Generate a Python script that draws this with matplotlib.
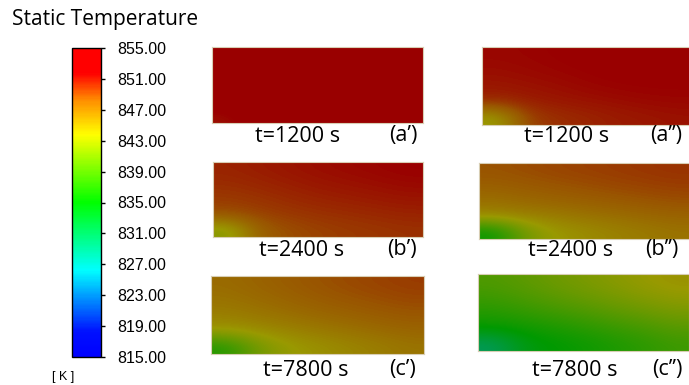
import numpy as np
import matplotlib
matplotlib.use('Agg')
import matplotlib.pyplot as plt
from matplotlib.colors import LinearSegmentedColormap, Normalize, to_rgb
from matplotlib.cm import ScalarMappable

# ---------------- data ----------------
t_min, t_max = 815.0, 855.0
cbar_ticks = [815, 819, 823, 827, 831, 835, 839, 843, 847, 851, 855]
cbar_title = "Static Temperature"
cbar_unit = "[ K ]"

# colour scale (temperature K -> colour)
scale_temps = [815.0, 818.2, 826.2, 835.0, 843.8, 848.2, 851.8, 855.0]
scale_colors = ['#0000ff', '#0010ff', '#00ffff', '#00ff00', '#ffff00', '#ff9000',
                '#ff0000', '#ff0000']

times = ["t=1200 s", "t=2400 s", "t=7800 s"]
tags_left = ["(a\u2019)", "(b\u2019)", "(c\u2019)"]
tags_right = ["(a\u2019\u2019)", "(b\u2019\u2019)", "(c\u2019\u2019)"]

# coarse temperature fields (rows top->bottom, cols left->right), K
field_a1 = [[855.0, 855.0, 855.0, 855.0, 855.0, 855.0, 855.0],
            [855.0, 855.0, 855.0, 855.0, 855.0, 855.0, 855.0],
            [855.0, 855.0, 855.0, 855.0, 855.0, 855.0, 855.0],
            [853.5, 855.0, 855.0, 855.0, 855.0, 855.0, 855.0],
            [851.0, 853.0, 855.0, 855.0, 855.0, 855.0, 855.0]]
field_a2 = [[851.5, 851.6, 851.8, 852.0, 852.0, 852.0, 852.0],
            [851.2, 851.4, 851.6, 851.8, 852.0, 852.0, 852.0],
            [850.8, 851.0, 851.2, 851.5, 851.7, 851.8, 851.8],
            [850.0, 850.5, 850.8, 851.0, 851.2, 851.4, 851.5],
            [843.5, 849.0, 849.8, 850.2, 850.6, 850.8, 851.0]]
field_b1 = [[850.3, 850.6, 850.9, 851.2, 851.4, 851.6, 851.8],
            [849.9, 850.2, 850.5, 850.8, 851.0, 851.2, 851.4],
            [849.3, 849.6, 850.0, 850.3, 850.5, 850.7, 850.9],
            [848.5, 849.0, 849.4, 849.7, 849.9, 850.1, 850.3],
            [842.5, 847.5, 848.5, 849.0, 849.3, 849.5, 849.7]]
field_b2 = [[848.3, 848.6, 848.9, 849.1, 849.3, 849.5, 849.7],
            [847.6, 847.9, 848.2, 848.5, 848.8, 849.0, 849.2],
            [846.5, 847.0, 847.3, 847.6, 847.9, 848.2, 848.5],
            [845.0, 845.3, 845.7, 846.2, 846.6, 847.0, 847.3],
            [835.5, 841.5, 843.8, 844.6, 845.3, 845.8, 846.3]]
field_c1 = [[846.8, 847.3, 847.8, 848.3, 848.7, 849.0, 849.3],
            [846.3, 846.8, 847.3, 847.8, 848.2, 848.5, 848.8],
            [845.5, 846.0, 846.5, 847.0, 847.4, 847.8, 848.1],
            [844.0, 844.6, 845.2, 845.8, 846.3, 846.8, 847.2],
            [837.0, 841.5, 843.5, 844.3, 845.0, 845.6, 846.2]]
field_c2 = [[839.5, 840.3, 841.2, 842.0, 842.8, 843.6, 844.3],
            [838.5, 839.3, 840.2, 841.0, 841.8, 842.6, 843.3],
            [837.0, 837.8, 838.5, 839.3, 840.2, 841.0, 841.8],
            [835.3, 835.8, 836.5, 837.3, 838.2, 839.0, 840.0],
            [830.0, 834.0, 835.0, 835.7, 836.6, 837.5, 838.5]]

# ---------------- style ----------------
W, H = 689, 385
fig = plt.figure(figsize=(W / 100, H / 100), dpi=100)
fig.patch.set_facecolor('white')

def ax_px(x0, y0, x1, y1):
    return fig.add_axes([x0 / W, 1 - y1 / H, (x1 - x0) / W, (y1 - y0) / H])

pos = [(t - t_min) / (t_max - t_min) for t in scale_temps]
cmap = LinearSegmentedColormap.from_list('fluent', list(zip(pos, scale_colors)))
shade = 0.60
shaded = [tuple(shade * c for c in to_rgb(h)) for h in scale_colors]
cmap_sh = LinearSegmentedColormap.from_list('fluent_shaded', list(zip(pos, shaded)))
norm = Normalize(t_min, t_max)

# colour bar
cax = ax_px(72, 48, 101, 357)
cb = fig.colorbar(ScalarMappable(norm=norm, cmap=cmap), cax=cax, ticks=cbar_ticks,
                  format='%.2f')
cb.outline.set_linewidth(1.0)
cb.outline.set_edgecolor('black')
cax.tick_params(length=3, width=1, direction='out', pad=9, labelsize=11.5)
for lbl in cax.get_yticklabels():
    lbl.set_family('Liberation Sans')

fig.text(12 / W, 1 - 20 / H, cbar_title, fontsize=15, family='Open Sans',
         ha='left', va='center')
fig.text(63 / W, 1 - 377 / H, cbar_unit, fontsize=9, family='Liberation Sans',
         ha='center', va='center')

fields_left = [field_a1, field_b1, field_c1]
fields_right = [field_a2, field_b2, field_c2]
boxes_left = [(212, 47, 423, 123), (213, 162, 423, 237), (211, 276, 424, 354)]
boxes_right = [(482, 47, 693, 125), (479, 163, 690, 239), (478, 274, 689, 351)]
label_y = [136, 250, 370]
time_x_left = [298, 302, 306]
tag_x_left = [403, 402, 403]
time_x_right = [567, 571, 575]
tag_x_right = [650, 645, 652]

def draw_panel(box, field):
    ax = ax_px(*box)
    ax.imshow(np.array(field), cmap=cmap_sh, norm=norm, aspect='auto',
              interpolation='bicubic', extent=(0, 1, 0, 1))
    ax.set_xticks([]); ax.set_yticks([])
    for s in ax.spines.values():
        s.set_color('#d8ceb4'); s.set_linewidth(0.8)

for i in range(3):
    draw_panel(boxes_left[i], fields_left[i])
    draw_panel(boxes_right[i], fields_right[i])
    fig.text(time_x_left[i] / W, 1 - label_y[i] / H, times[i], fontsize=15.5,
             family='Open Sans', ha='center', va='center')
    fig.text(tag_x_left[i] / W, 1 - label_y[i] / H, tags_left[i], fontsize=15.5,
             family='Open Sans', ha='center', va='center')
    fig.text(time_x_right[i] / W, 1 - label_y[i] / H, times[i], fontsize=15.5,
             family='Open Sans', ha='center', va='center')
    fig.text(tag_x_right[i] / W, 1 - label_y[i] / H, tags_right[i], fontsize=15.5,
             family='Open Sans', ha='left', va='center')

fig.savefig('out.png', dpi=100, facecolor='white')
